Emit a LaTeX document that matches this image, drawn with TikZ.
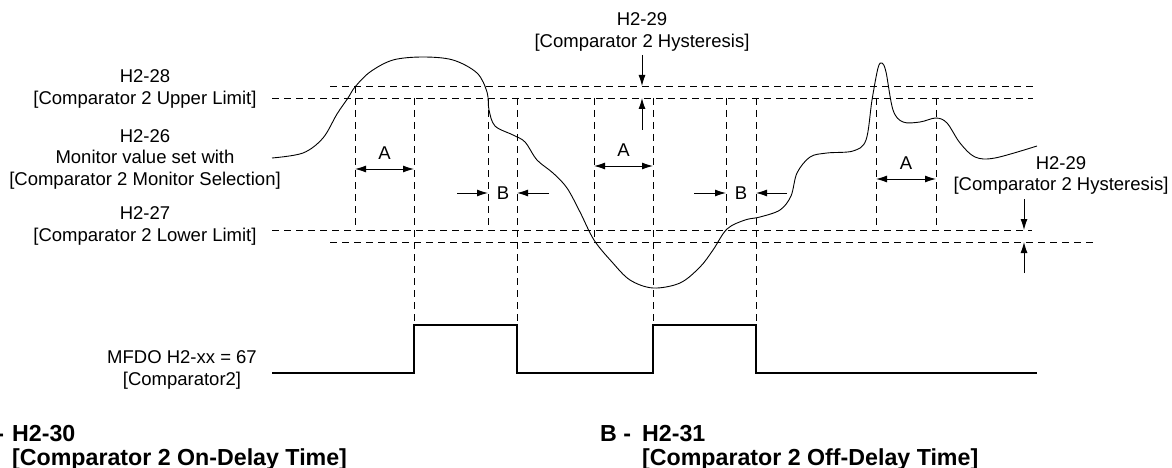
\documentclass[tikz,border=0pt]{standalone}
\usepackage{fontspec}
\setmainfont{Liberation Sans}
\usetikzlibrary{arrows.meta, positioning}

\begin{document}
\begin{tikzpicture}[
    x=1pt, y=-1pt,
    arrow/.style={-{Latex[length=11pt, width=7pt]}, line width=0.9pt},
    dblarrow/.style={{Latex[length=11pt, width=7pt]}-{Latex[length=11pt, width=7pt]}, line width=0.9pt},
    guide/.style={dash pattern=on 7pt off 5pt, line width=0.8pt},
    signal/.style={line width=1.1pt},
    txt/.style={
        align=center,
        inner sep=0pt,
        font=\fontsize{18.5}{21.5}\selectfont
    },
    legend/.style={
        align=left,
        inner sep=0pt,
        font=\bfseries\fontsize{23.2}{24}\selectfont
    }
]
\useasboundingbox (0,0) rectangle (1172,468);

% level lines
\coordinate (ht0) at (330,86);  \coordinate (ht1) at (1037,86);
\coordinate (ul0) at (272,98);  \coordinate (ul1) at (1033,98);
\coordinate (ll0) at (272,230); \coordinate (ll1) at (1032,230);
\coordinate (lh0) at (330,242); \coordinate (lh1) at (1093,242);

\draw[guide] (ht0) -- (ht1);
\draw[guide] (ul0) -- (ul1);
\draw[guide] (ll0) -- (ll1);
\draw[guide] (lh0) -- (lh1);

% timing guides
\foreach \x/\ya/\yb in {355/86/230, 414/98/325, 488/98/230, 517/98/325,
                        594/98/242, 653/98/325, 726/98/230, 756/98/325,
                        876/98/230, 936/98/230}
    \draw[guide] (\x,\ya) -- (\x,\yb);

% monitor value
\draw[line width=0.9pt] plot[smooth, tension=0.55] coordinates {
    (272,158) (303,153) (323,138) (337,114) (348,98) (355,87) (370,72)
    (393,60) (423,57) (453,60) (477,73) (487,92) (489,110) (495,126)
    (513,135) (525,142) (537,160) (553,173) (567,188) (580,212) (594,240)
    (612,262) (630,280) (653,288) (680,283) (700,267) (713,250) (727,229)
    (745,220) (760,217) (780,210) (791,196) (797,173) (810,157) (827,153)
    (853,151) (866,140) (872,100) (878,68) (882,63) (886,72) (893,110)
    (903,122) (920,122) (936,118) (947,123) (960,143) (975,157) (995,158)
    (1037,146)};

% output signal
\draw[signal] (272,373) -- (414,373) -- (414,325) -- (517,325) -- (517,373)
    -- (653,373) -- (653,325) -- (756,325) -- (756,373) -- (1037,373);

% labels
\node[txt] (h228) at (145,89) {H2-28\\{[}Comparator 2 Upper Limit]};
\node[txt] (h226) at (145,159) {H2-26\\Monitor value set with\\{[}Comparator 2 Monitor Selection]};
\node[txt] (h227) at (145,226) {H2-27\\{[}Comparator 2 Lower Limit]};
\node[txt] (mfdo) at (182,370) {MFDO H2-xx = 67\\{[}Comparator2]};
\node[txt] (hysT) at (642,32) {H2-29\\{[}Comparator 2 Hysteresis]};
\node[txt] (hysR) at (1061,175.5) {H2-29\\{[}Comparator 2 Hysteresis]};

% hysteresis arrows
\coordinate (tA) at (642,55);  \coordinate (tB) at (642,86);
\coordinate (tC) at (642,130); \coordinate (tD) at (642,98);
\draw[arrow] (tA) -- (tB);
\draw[arrow] (tC) -- (tD);
\coordinate (rA) at (1024,199); \coordinate (rB) at (1024,230);
\coordinate (rC) at (1024,273); \coordinate (rD) at (1024,242);
\draw[arrow] (rA) -- (rB);
\draw[arrow] (rC) -- (rD);

% on-delay
\coordinate (a1l) at (355,169); \coordinate (a1r) at (414,169);
\coordinate (a2l) at (594,166); \coordinate (a2r) at (653,166);
\coordinate (a3l) at (876,179); \coordinate (a3r) at (936,179);
\draw[dblarrow] (a1l) -- node[txt, above=9.5pt] (ta1) {A} (a1r);
\draw[dblarrow] (a2l) -- node[txt, above=9.5pt] (ta2) {A} (a2r);
\draw[dblarrow] (a3l) -- node[txt, above=9.5pt] (ta3) {A} (a3r);

% off-delay
\coordinate (b1a) at (457,193); \coordinate (b1b) at (488,193);
\coordinate (b1c) at (549,193); \coordinate (b1d) at (517,193);
\coordinate (b2a) at (694,193); \coordinate (b2b) at (726,193);
\coordinate (b2c) at (787,193); \coordinate (b2d) at (756,193);
\draw[arrow] (b1a) -- (b1b);
\draw[arrow] (b1c) -- (b1d);
\draw[arrow] (b2a) -- (b2b);
\draw[arrow] (b2c) -- (b2d);
\node[txt] (tb1) at (503,193) {B};
\node[txt] (tb2) at (741,193) {B};

% legend
\node[legend, anchor=north west] (keyA) at (-27,425) {A -};
\node[legend, anchor=north west] (legA) at (12,425) {H2-30\\{[}Comparator 2 On-Delay Time]};
\node[legend, anchor=north west] (keyB) at (600,425) {B -};
\node[legend, anchor=north west] (legB) at (642,425) {H2-31\\{[}Comparator 2 Off-Delay Time]};

\end{tikzpicture}
\end{document}
